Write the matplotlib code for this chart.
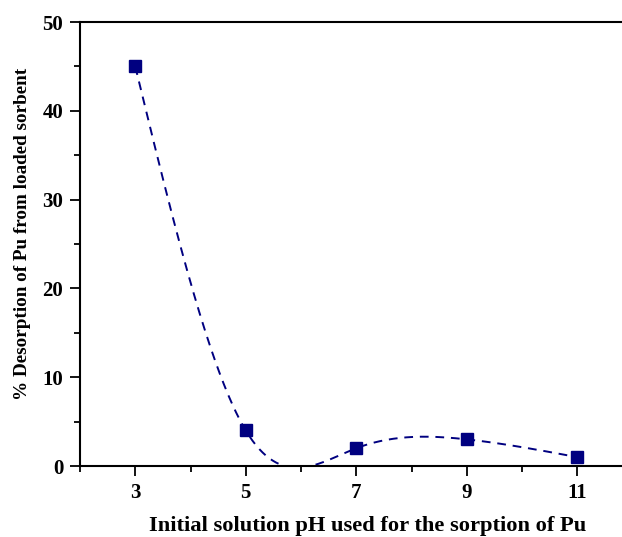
import matplotlib
matplotlib.use("Agg")
import matplotlib.pyplot as plt
import numpy as np
from matplotlib.ticker import MultipleLocator

# data
ph = [3, 5, 7, 9, 11]
desorption = [45, 4, 2, 3, 1]

xticks = [3, 5, 7, 9, 11]
yticks = [0, 10, 20, 30, 40, 50]

navy = "#000080"
plt.rcParams["font.family"] = ["Liberation Serif", "DejaVu Serif"]
plt.rcParams["font.weight"] = "bold"


def natural_spline(x, y, n=400):
    # natural cubic spline through the points (like Origin's spline connect)
    x = np.asarray(x, float)
    y = np.asarray(y, float)
    k = len(x)
    h = np.diff(x)
    A = np.zeros((k, k))
    b = np.zeros(k)
    A[0, 0] = A[-1, -1] = 1
    for i in range(1, k - 1):
        A[i, i - 1] = h[i - 1]
        A[i, i] = 2 * (h[i - 1] + h[i])
        A[i, i + 1] = h[i]
        b[i] = 6 * ((y[i + 1] - y[i]) / h[i] - (y[i] - y[i - 1]) / h[i - 1])
    M = np.linalg.solve(A, b)
    xs = np.linspace(x[0], x[-1], n)
    idx = np.clip(np.searchsorted(x, xs) - 1, 0, k - 2)
    x0, x1 = x[idx], x[idx + 1]
    hi = h[idx]
    ys = (M[idx] * (x1 - xs) ** 3 / (6 * hi) + M[idx + 1] * (xs - x0) ** 3 / (6 * hi)
          + (y[idx] - M[idx] * hi ** 2 / 6) * (x1 - xs) / hi
          + (y[idx + 1] - M[idx + 1] * hi ** 2 / 6) * (xs - x0) / hi)
    return xs, ys


fig = plt.figure(figsize=(6.22, 5.37), dpi=100)
# axes runs off the right edge like the cropped original
ax = fig.add_axes([80 / 622, 71 / 537, 552.5 / 622, 444 / 537])

xs, ys = natural_spline(ph, desorption)
ax.plot(xs, ys, color=navy, lw=1.4, ls=(0, (4.5, 3.5)))
ax.plot(ph, desorption, ls="none", marker="s", ms=8, color=navy)

ax.set_xlim(2, 12)
ax.set_ylim(0, 50)
ax.set_xticks(xticks)
ax.set_yticks(yticks)
ax.xaxis.set_minor_locator(MultipleLocator(1))
ax.yaxis.set_minor_locator(MultipleLocator(5))
ax.tick_params(which="both", direction="out", width=1.3, labelsize=15, pad=5)
ax.tick_params(which="major", length=7)
ax.tick_params(which="minor", length=4.5)
ax.tick_params(axis="x", top=False)
for s in ax.spines.values():
    s.set_linewidth(1.5)

fig.text(368 / 622, 1 - 526 / 537, "Initial solution pH used for the sorption of Pu",
         ha="center", va="center", fontsize=16.2, fontweight="bold")
fig.text(23 / 622, 1 - 234 / 537, "% Desorption of Pu from loaded sorbent",
         ha="center", va="center", rotation=90, fontsize=13.8, fontweight="bold")

fig.savefig("out.png", dpi=100)
